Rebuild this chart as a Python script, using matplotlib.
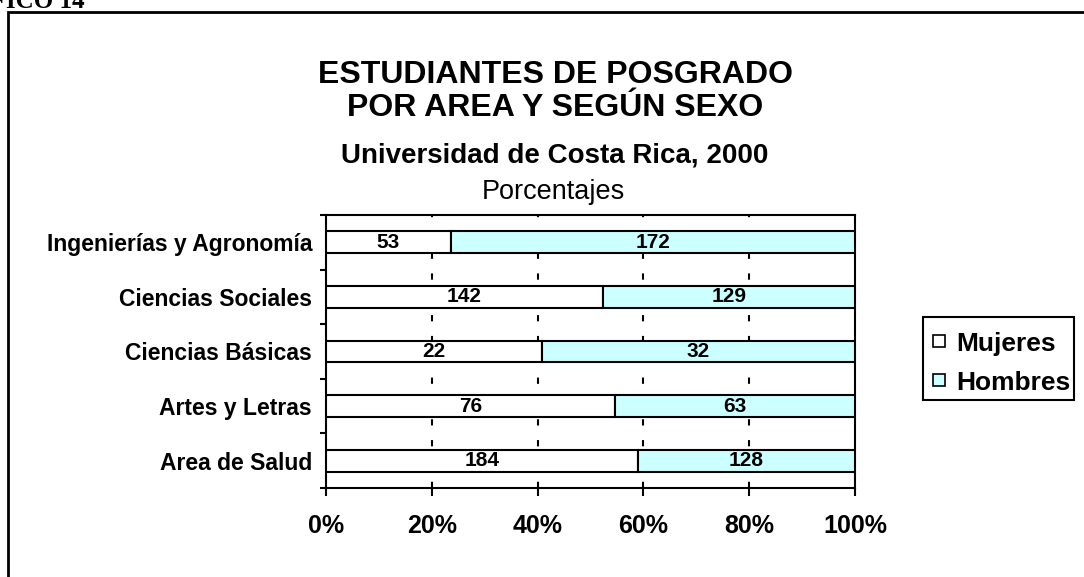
import matplotlib.pyplot as plt
import matplotlib.patches as mpatches
import numpy as np

areas = ['Area de Salud', 'Artes y Letras', 'Ciencias Básicas',
         'Ciencias Sociales', 'Ingenierías y Agronomía']
mujeres = [184, 76, 22, 142, 53]
hombres = [128, 63, 32, 129, 172]
x_ticks = [0, 20, 40, 60, 80, 100]
x_labels = ['0%', '20%', '40%', '60%', '80%', '100%']
color_m = 'white'
color_h = '#CCFFFF'

plt.rcParams['font.family'] = ['Liberation Sans', 'DejaVu Sans']

W, H = 1084, 577
fig = plt.figure(figsize=(W / 100, H / 100), dpi=100)
ax = fig.add_axes([326 / W, 1 - 488 / H, 529 / W, 273 / H])

muj = np.array(mujeres, dtype=float)
hom = np.array(hombres, dtype=float)
total = muj + hom
pm = muj / total * 100
ph = hom / total * 100
y = np.arange(len(areas))

ax.barh(y, pm, height=0.40, color=color_m, edgecolor='black', linewidth=1.5, zorder=3)
ax.barh(y, ph, left=pm, height=0.40, color=color_h, edgecolor='black', linewidth=1.5, zorder=3)

for i in range(len(areas)):
    ax.text(pm[i] / 2, y[i], str(mujeres[i]), ha='center', va='center',
            fontsize=15, fontweight='bold', zorder=4)
    ax.text(pm[i] + ph[i] / 2, y[i], str(hombres[i]), ha='center', va='center',
            fontsize=15, fontweight='bold', zorder=4)

ax.set_xlim(0, 100)
ax.set_ylim(-0.5, len(areas) - 0.5)
ax.set_xticks(x_ticks)
ax.set_xticklabels(x_labels, fontsize=18, fontweight='bold')
ax.tick_params(axis='x', length=6, width=1.5, pad=12.5)
ax.set_yticks(np.arange(-0.5, len(areas), 1.0))
ax.set_yticklabels([])
ax.set_yticks(y, minor=True)
ax.set_yticklabels(areas, minor=True, fontsize=16.5, fontweight='bold')
ax.tick_params(axis='y', which='major', length=4, width=1.5)
ax.tick_params(axis='y', which='minor', length=0, pad=10)
for s in ax.spines.values():
    s.set_linewidth(1.5)

for gx in x_ticks[1:-1]:
    ax.axvline(gx, color='black', linewidth=1.5, linestyle=(0, (3, 7)), zorder=1)

# titulos
fig.text(555 / W, 1 - 83 / H, 'ESTUDIANTES DE POSGRADO', ha='center', va='baseline',
         fontsize=23, fontweight='bold')
fig.text(555 / W, 1 - 116 / H, 'POR AREA Y SEGÚN SEXO', ha='center', va='baseline',
         fontsize=23, fontweight='bold')
fig.text(555 / W, 1 - 162 / H, 'Universidad de Costa Rica, 2000', ha='center', va='baseline',
         fontsize=20, fontweight='bold')
fig.text(553 / W, 1 - 199 / H, 'Porcentajes', ha='center', va='baseline', fontsize=19.5)

fig.text(85 / W, 1 - 8 / H, 'GRÁFICO 14', ha='right', va='baseline',
         fontsize=18, fontweight='bold', family='Liberation Serif')

# marco exterior
fig.patches.append(mpatches.Rectangle((8 / W, -0.05), 1.2, 1 - 12 / H + 0.05,
                                      transform=fig.transFigure, fill=False,
                                      edgecolor='black', linewidth=2))

# leyenda
fig.patches.append(mpatches.Rectangle((923 / W, 1 - 400 / H), 151 / W, 83 / H,
                                      transform=fig.transFigure, facecolor='white',
                                      edgecolor='black', linewidth=1.5))
for label, col, yc in [('Mujeres', color_m, 341), ('Hombres', color_h, 380)]:
    fig.patches.append(mpatches.Rectangle((933 / W, 1 - (yc + 6) / H), 12 / W, 12 / H,
                                          transform=fig.transFigure, facecolor=col,
                                          edgecolor='black', linewidth=1.2))
    fig.text(956 / W, 1 - (yc + 9.5) / H, label, ha='left', va='baseline',
             fontsize=19, fontweight='bold')

fig.savefig('out.png', dpi=100)
